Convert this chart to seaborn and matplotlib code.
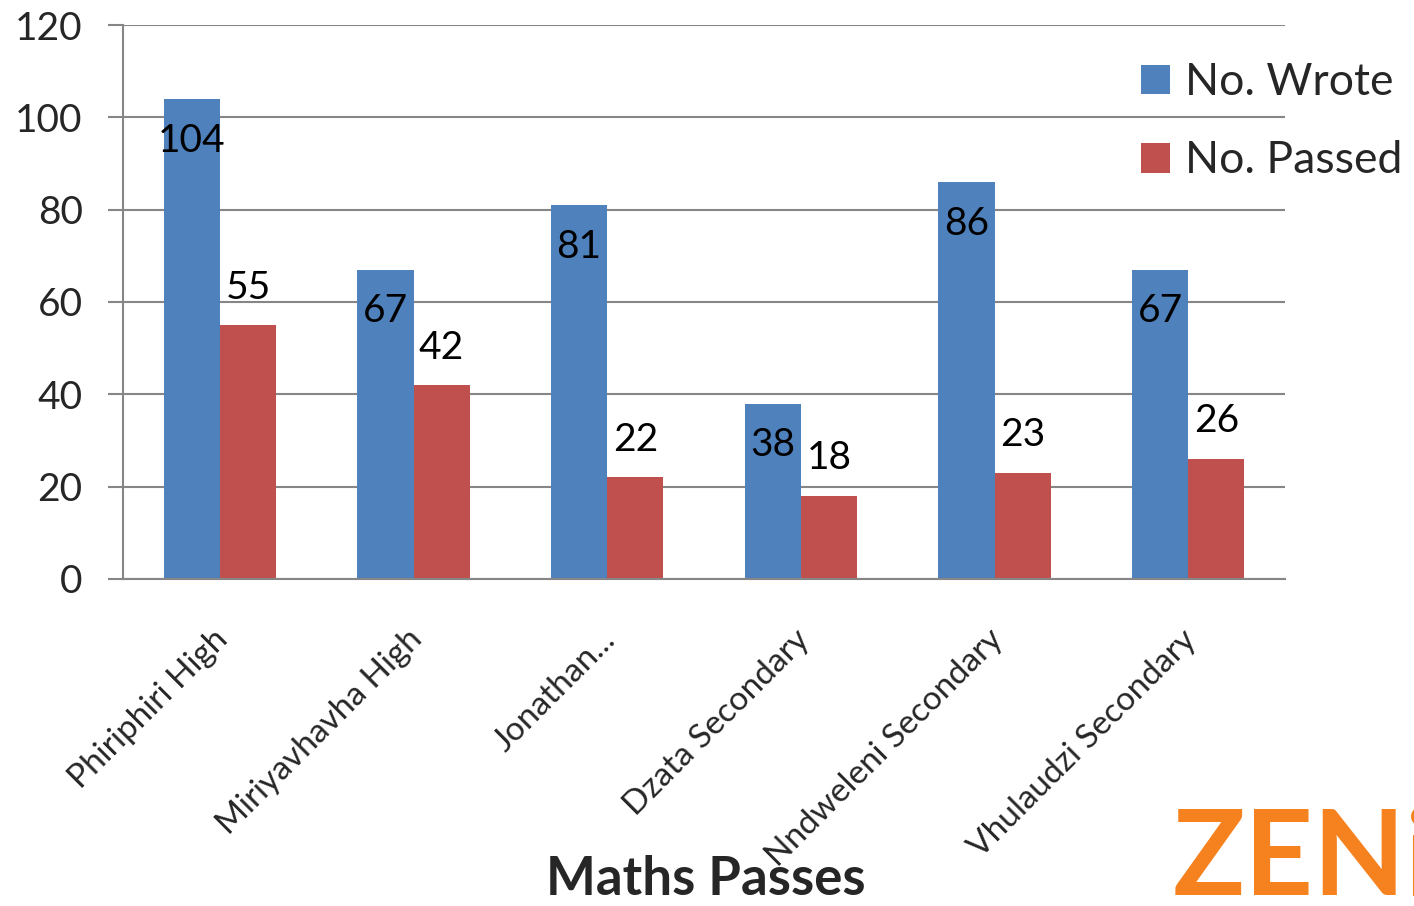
import matplotlib
matplotlib.use("Agg")
import matplotlib.pyplot as plt
import matplotlib.transforms as mtransforms
import seaborn as sns
import pandas as pd

schools = ["Phiriphiri High", "Miriyavhavha High", "Jonathan...", "Dzata Secondary",
           "Nndweleni Secondary", "Vhulaudzi Secondary"]
wrote = [104, 67, 81, 38, 86, 67]
passed = [55, 42, 22, 18, 23, 26]
series = ["No. Wrote", "No. Passed"]
yticks = [0, 20, 40, 60, 80, 100, 120]

df = pd.DataFrame({
    "School": schools * 2,
    "Count": wrote + passed,
    "Series": [series[0]] * len(schools) + [series[1]] * len(schools),
})

sns.set_style("white")
plt.rcParams["font.family"] = ["Lato", "DejaVu Sans"]

fig = plt.figure(figsize=(14.14, 9.06), dpi=100)
ax = fig.add_axes([0.087, 0.361, 0.8218, 0.6114])

colors = ["#4F81BD", "#C0504D"]
sns.barplot(data=df, x="School", y="Count", hue="Series", palette=colors,
            width=0.58, ax=ax, saturation=1, edgecolor="none", linewidth=0)

ax.set_ylim(0, 120)
ax.set_xlim(-0.5, 5.5)
ax.set_yticks(yticks)
ax.set_yticklabels([str(v) for v in yticks], fontsize=28)
ax.set_xlabel("")
ax.set_ylabel("")

gcol = "#868686"
ax.yaxis.grid(True, color=gcol, linewidth=1.5)
ax.set_axisbelow(True)
for s in ["top", "right"]:
    ax.spines[s].set_visible(False)
ax.spines["left"].set_color(gcol)
ax.spines["left"].set_linewidth(1.5)
ax.spines["bottom"].set_color(gcol)
ax.spines["bottom"].set_linewidth(1.5)
ax.tick_params(axis="y", length=11, width=1.5, color=gcol, pad=18, left=True)
ax.tick_params(axis="x", length=0, pad=34)

ax.set_xticks(range(len(schools)))
ax.set_xticklabels(schools, rotation=45, ha="right", rotation_mode="anchor",
                   fontsize=24)
shift = mtransforms.ScaledTranslation(-7 / 100, 2 / 100, fig.dpi_scale_trans)
for lbl in ax.get_xticklabels():
    lbl.set_transform(lbl.get_transform() + shift)

# data labels
for i, cont in enumerate(ax.containers):
    vals = wrote if i == 0 else passed
    off = -30 if i == 0 else 27
    for bar, v in zip(cont, vals):
        ax.annotate(str(v), (bar.get_x() + bar.get_width() / 2, bar.get_height()),
                    xytext=(0, off), textcoords="offset points",
                    ha="center", va="center", fontsize=28, color="black")

leg = ax.legend(loc="upper left", bbox_to_anchor=(0.791, 0.956),
                bbox_transform=fig.transFigure, frameon=False, fontsize=32,
                handlelength=0.65, handleheight=0.65, handletextpad=0.35,
                labelspacing=0.84, borderpad=0)

fig.text(0.499, 0.012, "Maths Passes", ha="center", va="baseline",
         fontsize=38, fontweight="bold")
fig.text(0.829, 0.012, "ZENi", ha="left", va="baseline", fontsize=86,
         fontweight="bold", color="#F5821F")

fig.savefig("out.png", dpi=100)
